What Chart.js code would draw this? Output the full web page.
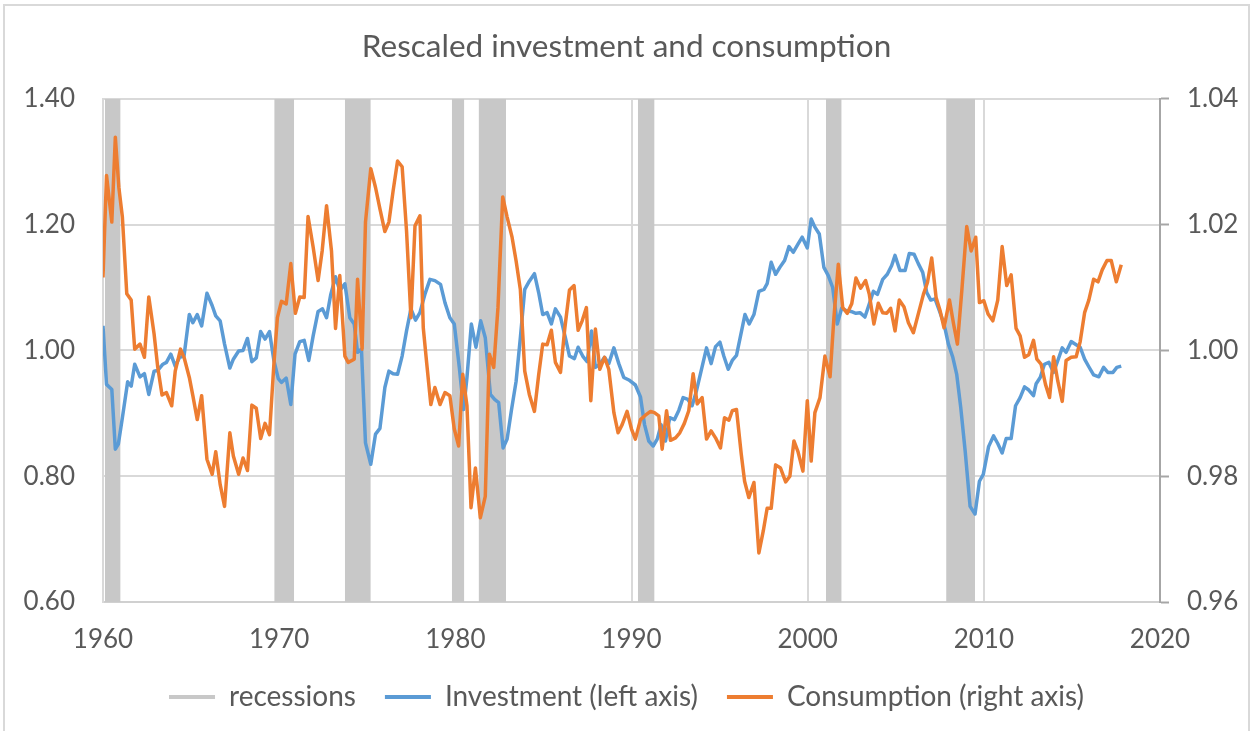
<!DOCTYPE html>
<html>
<head>
<meta charset="utf-8">
<title>Rescaled investment and consumption</title>
<script src="https://cdn.jsdelivr.net/npm/chart.js@4.4.1/dist/chart.umd.min.js"></script>
<style>
  body { margin: 0; background: #fff; overflow: hidden; }
  .frame { position: absolute; left: 3px; top: 4px; width: 1247px; height: 800px; border: 2px solid #d9d9d9; box-sizing: border-box; }
  canvas { position: absolute; left: 0; top: 0; }
</style>
</head>
<body>
<div class="frame"></div>
<canvas id="myChart" width="1253" height="721"></canvas>
<script>
// chart text
let chartTitle = 'Rescaled investment and consumption';
let seriesLabels = ['Consumption (right axis)', 'Investment (left axis)', 'recessions'];
let xTicks = { min: 1960, max: 2020, step: 10 };
let leftTicks = { min: 0.60, max: 1.40, step: 0.20 };
let rightTicks = { min: 0.96, max: 1.04, step: 0.02 };

// recession bands (decimal years), drawn up to the top of the left axis
let recessionStart = [1960.11, 1969.72, 1973.73, 1979.80, 1981.32, 1990.36, 2001.04, 2007.86];
let recessionEnd   = [1961.00, 1970.85, 1975.20, 1980.51, 1982.88, 1991.31, 2001.93, 2009.50];
let recessionTop = 1.40;

// investment, left axis (one row per decade)
let invYears = [
  1960.00,1960.20,1960.50,1960.70,1960.87,1961.10,1961.40,1961.60,1961.80,1962.10,1962.35,1962.60,1962.90,1963.10,1963.40,1963.60,1963.85,1964.10,1964.35,1964.60,1964.90,1965.10,1965.35,1965.60,1965.90,1966.20,1966.40,1966.65,1966.90,1967.20,1967.40,1967.70,1967.95,1968.20,1968.45,1968.70,1968.95,1969.20,1969.45,1969.70,1969.95,
  1970.13,1970.40,1970.66,1970.90,1971.17,1971.42,1971.68,1971.93,1972.21,1972.46,1972.69,1972.93,1973.20,1973.44,1973.73,1974.01,1974.26,1974.45,1974.67,1974.90,1975.20,1975.47,1975.72,1976.00,1976.23,1976.47,1976.72,1976.98,1977.23,1977.48,1977.74,1977.99,1978.27,1978.56,1978.84,1979.16,1979.41,1979.69,1979.94,
  1980.23,1980.47,1980.66,1980.91,1981.17,1981.44,1981.70,1981.99,1982.23,1982.46,1982.71,1982.94,1983.18,1983.45,1983.69,1983.94,1984.20,1984.49,1984.73,1984.96,1985.21,1985.45,1985.68,1985.97,1986.25,1986.48,1986.76,1986.97,1987.23,1987.48,1987.73,1987.95,1988.20,1988.47,1988.71,1989.00,1989.28,1989.56,1989.85,
  1990.22,1990.51,1990.74,1990.98,1991.23,1991.46,1991.68,1991.93,1992.17,1992.44,1992.69,1992.93,1993.20,1993.44,1993.69,1993.95,1994.26,1994.52,1994.77,1995.02,1995.24,1995.49,1995.72,1995.96,1996.19,1996.44,1996.68,1996.95,1997.23,1997.52,1997.70,1997.93,1998.18,1998.42,1998.69,1998.94,1999.18,1999.45,1999.69,1999.98,
  2000.20,2000.41,2000.66,2000.92,2001.17,2001.42,2001.68,2001.93,2002.21,2002.46,2002.74,2002.97,2003.25,2003.50,2003.73,2003.96,2004.26,2004.52,2004.77,2004.96,2005.24,2005.53,2005.77,2006.04,2006.28,2006.53,2006.76,2006.99,2007.23,2007.48,2007.74,2007.99,2008.24,2008.46,2008.69,2008.94,2009.22,2009.50,2009.75,2009.97,
  2010.27,2010.55,2010.79,2011.04,2011.27,2011.55,2011.80,2012.06,2012.31,2012.55,2012.82,2012.97,2013.20,2013.44,2013.69,2013.96,2014.20,2014.45,2014.67,2014.96,2015.24,2015.47,2015.72,2015.96,2016.23,2016.53,2016.80,2017.04,2017.33,2017.55,2017.80
];
let invValues = [
  1.039,0.946,0.938,0.843,0.851,0.893,0.950,0.943,0.978,0.958,0.963,0.930,0.967,0.968,0.978,0.981,0.994,0.975,0.989,0.991,1.057,1.044,1.057,1.039,1.091,1.071,1.055,1.047,1.010,0.972,0.986,0.999,1.000,1.019,0.982,0.988,1.030,1.018,1.030,0.984,0.955,
  0.949,0.956,0.914,0.994,1.014,1.016,0.984,1.023,1.062,1.066,1.052,1.089,1.117,1.095,1.106,1.052,1.042,0.997,1.002,0.853,0.819,0.867,0.876,0.941,0.967,0.963,0.962,0.991,1.031,1.066,1.048,1.060,1.089,1.113,1.111,1.105,1.076,1.052,1.042,
  0.972,0.906,0.957,1.042,1.005,1.047,1.020,0.930,0.922,0.917,0.845,0.859,0.904,0.951,1.020,1.097,1.110,1.122,1.092,1.057,1.060,1.042,1.066,1.053,1.020,0.991,0.987,1.005,0.991,0.982,1.031,0.973,0.978,0.989,0.979,1.004,0.979,0.957,0.953,
  0.945,0.926,0.882,0.856,0.848,0.859,0.882,0.856,0.893,0.890,0.905,0.925,0.922,0.912,0.936,0.967,1.004,0.979,1.006,1.013,0.991,0.970,0.984,0.992,1.023,1.057,1.042,1.057,1.094,1.097,1.106,1.140,1.121,1.132,1.143,1.165,1.156,1.169,1.180,1.163,
  1.209,1.196,1.185,1.132,1.119,1.100,1.042,1.067,1.063,1.062,1.059,1.060,1.053,1.074,1.094,1.089,1.113,1.121,1.135,1.151,1.127,1.127,1.154,1.153,1.138,1.124,1.092,1.080,1.082,1.063,1.042,1.010,0.989,0.962,0.909,0.840,0.752,0.740,0.792,0.803,
  0.847,0.864,0.852,0.837,0.860,0.860,0.912,0.925,0.942,0.937,0.928,0.947,0.957,0.978,0.981,0.965,0.984,1.004,0.997,1.014,1.009,1.005,0.986,0.974,0.961,0.958,0.973,0.965,0.965,0.973,0.975
];

// consumption, right axis
let conYears = [
  1960.00,1960.20,1960.50,1960.70,1960.90,1961.10,1961.35,1961.60,1961.80,1962.10,1962.35,1962.60,1962.90,1963.10,1963.35,1963.60,1963.90,1964.10,1964.40,1964.60,1964.90,1965.10,1965.35,1965.60,1965.90,1966.20,1966.40,1966.65,1966.90,1967.20,1967.40,1967.70,1967.95,1968.20,1968.45,1968.70,1968.95,1969.20,1969.45,1969.70,1969.90,
  1970.13,1970.40,1970.66,1970.92,1971.17,1971.42,1971.64,1971.93,1972.21,1972.44,1972.69,1972.97,1973.20,1973.44,1973.73,1973.92,1974.26,1974.45,1974.71,1974.90,1975.20,1975.47,1975.72,1976.00,1976.23,1976.47,1976.72,1976.98,1977.23,1977.48,1977.71,1977.99,1978.18,1978.37,1978.61,1978.84,1979.13,1979.41,1979.69,1979.94,
  1980.19,1980.42,1980.66,1980.89,1981.14,1981.42,1981.70,1981.93,1982.18,1982.42,1982.69,1982.94,1983.22,1983.45,1983.69,1983.94,1984.20,1984.49,1984.73,1984.96,1985.21,1985.45,1985.68,1985.97,1986.21,1986.48,1986.74,1986.97,1987.20,1987.44,1987.69,1987.95,1988.20,1988.47,1988.71,1989.00,1989.24,1989.47,1989.75,1990.00,
  1990.22,1990.51,1990.79,1991.08,1991.30,1991.55,1991.74,1991.99,1992.21,1992.50,1992.74,1993.00,1993.25,1993.50,1993.73,1994.01,1994.26,1994.52,1994.77,1995.05,1995.28,1995.53,1995.72,1995.96,1996.23,1996.42,1996.66,1996.95,1997.23,1997.48,1997.70,1997.93,1998.18,1998.46,1998.75,1998.99,1999.22,1999.45,1999.73,1999.98,
  2000.20,2000.41,2000.70,2000.98,2001.27,2001.49,2001.74,2001.99,2002.25,2002.50,2002.74,2003.01,2003.29,2003.50,2003.76,2004.01,2004.26,2004.49,2004.71,2004.96,2005.20,2005.47,2005.72,2006.00,2006.28,2006.57,2006.80,2007.04,2007.29,2007.52,2007.74,2008.05,2008.27,2008.50,2008.75,2009.03,2009.28,2009.54,2009.75,2010.00,
  2010.24,2010.51,2010.79,2011.04,2011.30,2011.55,2011.83,2012.06,2012.31,2012.55,2012.82,2013.01,2013.25,2013.50,2013.73,2013.96,2014.20,2014.45,2014.67,2014.96,2015.24,2015.47,2015.72,2015.96,2016.23,2016.48,2016.72,2016.99,2017.23,2017.52,2017.80
];
let conValues = [
  1.0116,1.0278,1.0204,1.0339,1.0259,1.0212,1.0090,1.0080,1.0002,1.0010,0.9989,1.0085,1.0026,0.9975,0.9929,0.9933,0.9912,0.9967,1.0002,0.9989,0.9957,0.9928,0.9890,0.9928,0.9827,0.9803,0.9839,0.9787,0.9752,0.9869,0.9832,0.9803,0.9829,0.9809,0.9913,0.9908,0.9860,0.9884,0.9866,0.9978,1.0052,
  1.0078,1.0074,1.0138,1.0059,1.0085,1.0084,1.0213,1.0164,1.0111,1.0158,1.0230,1.0158,1.0035,1.0119,0.9991,0.9981,0.9986,1.0113,1.0002,1.0204,1.0289,1.0259,1.0225,1.0189,1.0204,1.0254,1.0301,1.0292,1.0190,1.0052,1.0198,1.0214,1.0036,0.9981,0.9914,0.9941,0.9914,0.9933,0.9928,0.9875,
  0.9848,0.9962,0.9912,0.9750,0.9813,0.9734,0.9768,0.9994,0.9973,1.0068,1.0244,1.0212,1.0180,1.0142,1.0097,0.9967,0.9930,0.9903,0.9961,1.0010,1.0009,1.0032,0.9981,0.9965,1.0034,1.0096,1.0103,1.0032,1.0047,1.0068,0.9920,1.0034,0.9970,0.9989,0.9970,0.9901,0.9869,0.9882,0.9903,0.9875,
  0.9859,0.9890,0.9897,0.9903,0.9901,0.9896,0.9843,0.9904,0.9857,0.9861,0.9869,0.9884,0.9904,0.9963,0.9915,0.9925,0.9859,0.9872,0.9861,0.9845,0.9893,0.9889,0.9904,0.9906,0.9835,0.9792,0.9766,0.9790,0.9678,0.9713,0.9749,0.9749,0.9818,0.9813,0.9791,0.9800,0.9856,0.9839,0.9808,0.9920,
  0.9824,0.9901,0.9925,0.9991,0.9958,1.0052,1.0137,1.0068,1.0059,1.0074,1.0115,1.0099,1.0111,1.0089,1.0042,1.0075,1.0060,1.0059,1.0067,1.0031,1.0080,1.0069,1.0044,1.0028,1.0058,1.0089,1.0108,1.0147,1.0084,1.0063,1.0036,1.0080,1.0044,1.0010,1.0095,1.0197,1.0158,1.0180,1.0076,1.0079,
  1.0058,1.0047,1.0080,1.0165,1.0103,1.0120,1.0035,1.0023,0.9989,0.9993,1.0016,0.9986,0.9978,0.9946,0.9925,0.9990,0.9951,0.9919,0.9984,0.9989,0.9990,1.0014,1.0060,1.0080,1.0113,1.0109,1.0128,1.0143,1.0143,1.0109,1.0136
];

let colors = { consumption: '#ED7D31', investment: '#5B9BD5', recessions: '#C8C8C8' };
let gridColor = '#d9d9d9';
let textColor = '#595959';

// pairs the year and value arrays into {x, y} points
function toPoints(xs, ys){
    return xs.map((x, i) => ({ x: x, y: ys[i] }))
}

// each band is a filled segment from start to end, broken by a null point
function recessionPoints(){
    let pts = [];
    for(let i = 0; i < recessionStart.length; i++){
        pts.push({ x: recessionStart[i], y: recessionTop });
        pts.push({ x: recessionEnd[i], y: recessionTop });
        pts.push({ x: recessionEnd[i], y: null });
    }
    return pts
}

Chart.defaults.font.family = 'Lato, "Open Sans", sans-serif';
Chart.defaults.color = textColor;

// first dataset is drawn on top, so consumption goes first and recessions last
let ctx = document.getElementById('myChart').getContext('2d');
let myChart = new Chart(ctx, {
    type: 'line',
    data: {
        datasets: [{
            label: seriesLabels[0],
            data: toPoints(conYears, conValues),
            yAxisID: 'y2',
            borderColor: colors.consumption,
            backgroundColor: colors.consumption,
            borderWidth: 3.5,
            pointRadius: 0,
            borderJoinStyle: 'round',
            fill: false
        }, {
            label: seriesLabels[1],
            data: toPoints(invYears, invValues),
            yAxisID: 'y',
            borderColor: colors.investment,
            backgroundColor: colors.investment,
            borderWidth: 3.5,
            pointRadius: 0,
            borderJoinStyle: 'round',
            fill: false
        }, {
            label: seriesLabels[2],
            data: recessionPoints(),
            yAxisID: 'y',
            borderColor: colors.recessions,
            backgroundColor: colors.recessions,
            borderWidth: 0,
            pointRadius: 0,
            spanGaps: false,
            fill: 'start'
        }]
    },
    options: {
        responsive: false,
        animation: false,
        devicePixelRatio: 1,
        events: [],
        plugins: {
            title: {
                display: true,
                text: chartTitle,
                color: textColor,
                font: { size: 31.5, weight: 'normal' },
                padding: { top: 28, bottom: 33 }
            },
            legend: {
                position: 'bottom',
                labels: {
                    boxWidth: 46,
                    boxHeight: 4,
                    padding: 29,
                    color: textColor,
                    font: { size: 28 },
                    // legend order: recessions, investment, consumption
                    generateLabels: chart => [2, 1, 0].map(i => {
                        let ds = chart.data.datasets[i];
                        return {
                            text: ds.label,
                            fillStyle: ds.borderColor,
                            strokeStyle: ds.borderColor,
                            lineWidth: 0,
                            hidden: false,
                            datasetIndex: i,
                            fontColor: textColor
                        }
                    })
                }
            },
            tooltip: { enabled: false }
        },
        scales: {
            x: {
                type: 'linear',
                min: xTicks.min,
                max: xTicks.max,
                // tall enough that the year labels are not clipped
                afterFit: scale => { scale.height = 52 },
                ticks: {
                    stepSize: xTicks.step,
                    padding: 22,
                    color: textColor,
                    font: { size: 26 },
                    callback: value => String(value)
                },
                grid: { color: gridColor, lineWidth: 2, drawTicks: false },
                border: { color: '#d0d0d0', width: 2 }
            },
            y: {
                position: 'left',
                min: leftTicks.min,
                max: leftTicks.max,
                afterFit: scale => { scale.width = 103 },
                ticks: {
                    stepSize: leftTicks.step,
                    padding: 28,
                    color: textColor,
                    font: { size: 26 },
                    callback: value => value.toFixed(2)
                },
                grid: { color: gridColor, lineWidth: 2, drawTicks: false },
                border: { color: gridColor, width: 2 }
            },
            y2: {
                position: 'right',
                min: rightTicks.min,
                max: rightTicks.max,
                afterFit: scale => { scale.width = 93 },
                ticks: {
                    stepSize: rightTicks.step,
                    padding: 18,
                    color: textColor,
                    font: { size: 26 },
                    callback: value => value.toFixed(2)
                },
                grid: { drawOnChartArea: false, drawTicks: true, tickLength: 9, tickColor: '#a6a6a6', tickWidth: 2 },
                border: { color: '#a6a6a6', width: 2 }
            }
        }
    }
});
</script>
</body>
</html>
